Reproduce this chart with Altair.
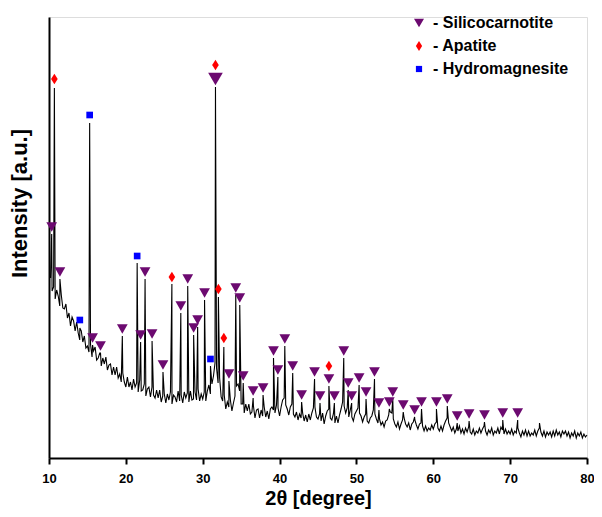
import altair as alt
import pandas as pd

scan_start = 10.2
scan_step = 0.2
trace_y = [
    180, 167, 171, 159, 168, 162, 152, 163, 150, 149, 154, 140, 145, 132, 141, 137, 127, 136, 125, 118, 127, 116, 122, 110, 112,
    106, 114, 101, 107, 111, 98, 100, 105, 92, 100, 94, 101, 88, 93, 94, 83, 91, 83, 91, 80, 84, 76, 85, 76, 71,
    81, 71, 76, 68, 79, 71, 75, 66, 78, 67, 68, 74, 62, 69, 71, 61, 71, 63, 60, 68, 60, 68, 56, 62, 64,
    55, 64, 58, 66, 54, 63, 61, 56, 67, 57, 63, 55, 66, 60, 65, 56, 67, 58, 59, 66, 58, 69, 57, 64, 59,
    66, 57, 67, 73, 64, 74, 82, 95, 90, 75, 80, 61, 57, 63, 49, 56, 51, 58, 47, 55, 62, 72, 74, 67, 54,
    54, 45, 54, 47, 54, 44, 46, 52, 40, 48, 49, 40, 48, 42, 51, 41, 47, 39, 49, 51, 48, 45, 53, 50, 42,
    51, 58, 60, 53, 49, 43, 51, 54, 44, 41, 46, 38, 44, 40, 45, 37, 43, 36, 44, 38, 45, 50, 51, 41, 39,
    44, 37, 45, 34, 42, 47, 49, 40, 38, 44, 35, 42, 35, 43, 49, 56, 52, 45, 50, 41, 48, 41, 37, 44, 47,
    50, 45, 42, 36, 41, 44, 37, 35, 40, 42, 48, 44, 39, 35, 39, 33, 36, 31, 37, 38, 43, 46, 45, 39, 34,
    31, 36, 29, 34, 38, 40, 34, 31, 35, 28, 34, 36, 38, 33, 29, 34, 35, 32, 27, 32, 27, 30, 28, 33, 29,
    34, 36, 30, 27, 32, 27, 33, 37, 40, 35, 31, 27, 31, 25, 29, 27, 32, 25, 29, 24, 30, 26, 31, 26, 24,
    29, 23, 27, 25, 30, 25, 29, 32, 27, 23, 28, 25, 30, 23, 27, 25, 30, 24, 31, 28, 24, 29, 24, 27, 24,
    29, 23, 27, 25, 30, 25, 21, 27, 23, 28, 22, 27, 22, 25, 23, 28, 22, 27, 30, 26, 22, 27, 21, 26, 23,
    26, 21, 27, 22, 28, 23, 26, 21, 27, 24, 27, 22, 26, 20, 25, 22, 27, 20, 25, 22, 26, 20, 24, 21, 23,
]

# ---- Diffraction peak maxima (2theta, intensity)
peak_x = [10.35, 10.70, 11.42, 14.01, 15.29, 15.67, 16.70, 19.54, 21.47, 21.92,
          22.50, 23.41, 24.83, 25.99, 27.15, 28.05, 28.82, 29.34, 30.24, 31.01,
          31.66, 32.04, 32.75, 33.41, 34.30, 34.82, 35.27, 36.56, 37.85, 39.21,
          39.78, 40.68, 41.71, 42.87, 44.55, 45.26, 46.42, 47.13, 48.35, 48.93,
          49.38, 50.35, 51.25, 52.35, 52.93, 54.28, 54.73, 56.09, 57.57, 58.47,
          60.41, 61.82, 63.11, 64.66, 66.66, 69.04, 70.98, 73.82]
peak_y = [224, 370, 179, 130, 335, 113, 105, 122, 195, 116,
          179, 117, 86, 174, 145, 172, 123, 131, 158, 92,
          371, 161, 111, 77, 163, 153, 75, 60, 63, 100,
          81, 112, 85, 56, 79, 55, 72, 55, 100, 68,
          55, 73, 59, 79, 48, 49, 59, 46, 41, 49,
          49, 52, 35, 37, 36, 38, 38, 35]

# ---- Phase markers
sil_x = [10.35, 11.42, 15.67, 16.70, 19.54, 21.92, 22.50, 23.41, 24.83, 27.15,
         28.05, 28.82, 29.34, 30.24, 31.66, 33.41, 34.30, 34.82, 35.27, 36.56,
         37.85, 39.21, 39.78, 40.68, 41.71, 42.87, 44.55, 45.26, 46.42, 47.13,
         48.35, 48.93, 49.38, 50.35, 51.25, 52.35, 52.93, 54.28, 54.73, 56.09,
         57.57, 58.47, 60.41, 61.82, 63.11, 64.66, 66.66, 69.04, 70.98]
sil_y = [231, 186, 120, 112, 129, 123, 186, 124, 93, 152,
         179, 130, 138, 165, 379, 84, 170, 160, 82, 67,
         70, 107, 88, 119, 92, 63, 86, 62, 79, 62,
         107, 75, 62, 80, 66, 86, 55, 56, 66, 53,
         48, 56, 56, 59, 42, 44, 43, 45, 45]
apa_x = [10.70, 25.99, 31.66, 32.04, 32.75, 46.42]
apa_y = [379, 181, 393, 169, 120, 92]
hyd_x = [14.01, 15.29, 21.47, 31.01]
hyd_y = [138, 343, 202, 99]

phases = ["Silicocarnotite", "Apatite", "Hydromagnesite"]
phase_colors = ["#6c0a70", "#ff0000", "#0000ff"]
phase_shapes = ["triangle-down",
                "M0,-1L0.62,0L0,1L-0.62,0Z",
                "M-0.62,-0.62L0.62,-0.62L0.62,0.62L-0.62,0.62Z"]

trace_x = [round(scan_start + scan_step * i, 2) for i in range(len(trace_y))]
line_df = pd.DataFrame({"x": trace_x + peak_x, "y": trace_y + peak_y})
markers_df = pd.concat([
    pd.DataFrame({"x": sil_x, "y": sil_y, "phase": phases[0]}),
    pd.DataFrame({"x": apa_x, "y": apa_y, "phase": phases[1]}),
    pd.DataFrame({"x": hyd_x, "y": hyd_y, "phase": phases[2]}),
], ignore_index=True)

FONT = "Liberation Sans"
xscale = alt.Scale(domain=[10, 80], nice=False, zero=False)
yscale = alt.Scale(domain=[0, 441], nice=False, zero=False)

xaxis = alt.Axis(
    values=list(range(10, 81, 5)),
    labelExpr="datum.value % 10 === 0 ? datum.label : ''",
    grid=False, tickSize=6, tickWidth=2, tickColor="black",
    domainWidth=2, domainColor="black",
    labelFont=FONT, labelFontSize=13, labelFontWeight="bold", labelColor="black",
    labelPadding=8, labelFlush=False, labelOverlap=False,
    title="2θ [degree]", titleFont=FONT, titleFontSize=20, titleFontWeight="bold",
    titleColor="black", titleY=46, titleBaseline="alphabetic",
)
yaxis = alt.Axis(
    ticks=False, labels=False, grid=False,
    domainWidth=2, domainColor="black",
    title="Intensity [a.u.]", titleFont=FONT, titleFontSize=22, titleFontWeight="bold",
    titleColor="black", titleX=-23, titleY=186, titleAngle=270,
    titleBaseline="alphabetic", titleAlign="center",
)

line = alt.Chart(line_df).mark_line(color="black", strokeWidth=1.1).encode(
    x=alt.X("x:Q", scale=xscale, axis=xaxis),
    y=alt.Y("y:Q", scale=yscale, axis=yaxis),
)

leg = alt.Legend(
    orient="none", legendX=362, legendY=-2, padding=0,
    labelFont=FONT, labelFontSize=16, labelFontWeight="bold", labelColor="black",
    labelExpr="'- ' + datum.label", symbolSize=100, rowPadding=7, labelOffset=6,
    symbolStrokeWidth=0,
)
color_enc = alt.Color("phase:N", title="", scale=alt.Scale(domain=phases, range=phase_colors), legend=leg)
shape_enc = alt.Shape("phase:N", title="", scale=alt.Scale(domain=phases, range=phase_shapes), legend=leg)

pts = alt.Chart(markers_df).transform_filter(
    "!(datum.phase == 'Silicocarnotite' && datum.y > 300)"
).mark_point(filled=True, opacity=1, size=115).encode(
    x=alt.X("x:Q", scale=xscale), y=alt.Y("y:Q", scale=yscale), color=color_enc, shape=shape_enc,
)
big = alt.Chart(markers_df).transform_filter(
    "datum.phase == 'Silicocarnotite' && datum.y > 300"
).mark_point(filled=True, opacity=1, size=215).encode(
    x=alt.X("x:Q", scale=xscale), y=alt.Y("y:Q", scale=yscale), color=color_enc, shape=shape_enc,
)

chart = alt.layer(line, pts, big).properties(
    width=538, height=441,
    autosize=alt.AutoSizeParams(type="none"),
    padding={"left": 41, "top": 9, "right": 7, "bottom": 51},
).configure_view(stroke="transparent").configure(background="white")

chart.save("out.html", embed_options={"renderer": "svg", "actions": False})
